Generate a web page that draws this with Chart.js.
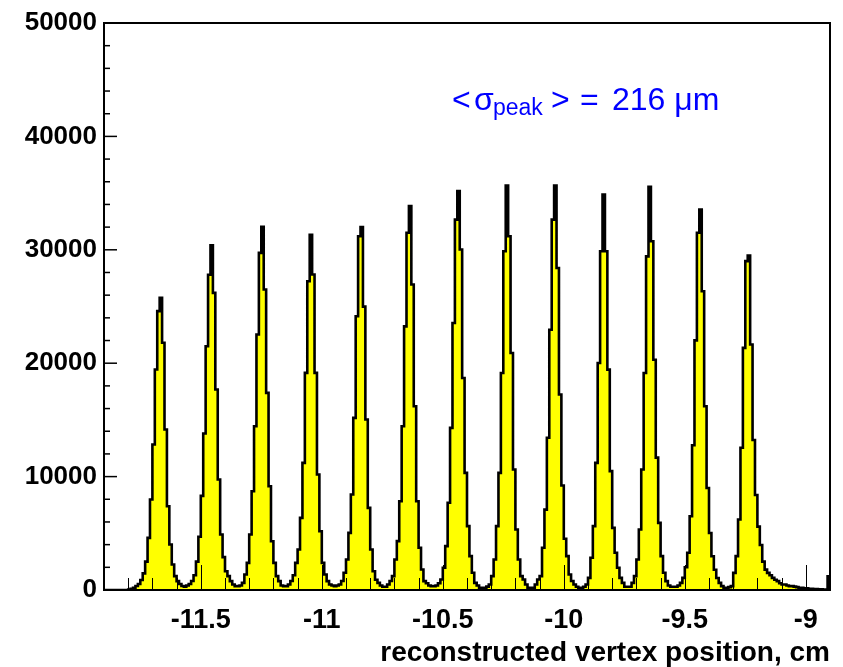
<!DOCTYPE html>
<html>
<head>
<meta charset="utf-8">
<script src="https://cdn.jsdelivr.net/npm/chart.js@4.4.1/dist/chart.umd.min.js"></script>
<style>
  html, body { margin: 0; padding: 0; background: #ffffff; }
  #wrap { width: 843px; height: 667px; }
</style>
</head>
<body>
<div id="wrap"><canvas id="vertexChart" width="843" height="667"></canvas></div>
<script>
// histogram binning: 300 bins of 0.01 cm from -11.9 cm
const binLow = -11.9;
const binWidth = 0.01;

// counts per bin (one row per peak)
const binCounts = [
    0, 0, 0, 0, 0, 0, 0, 0, 0, 0, 50, 100, 190, 353, 530, 880, 1470, 2500, 4600, 7980, 12830, 19440, 24590,
    25770,
    21800, 14150, 7390, 4010, 2250, 1220, 780, 530, 350, 300, 400, 530, 800, 1300, 2500, 4700, 8300, 13800, 21500, 27800,
    30400,
    26200, 17680, 9740, 4890, 2900, 1660, 1220, 780, 485, 340, 340, 400, 630, 1370, 2390, 4890, 8710, 14440, 22530, 29730,
    32030,
    26500, 17380, 9150, 4300, 2390, 1220, 780, 400, 340, 340, 485, 800, 1300, 2390, 3570, 6360, 11210, 19150, 27230,
    31320,
    27820, 19150, 10180, 5180, 2390, 1370, 780, 485, 400, 340, 400, 485, 800, 1520, 2690, 5040, 8420, 15180, 24140, 31190,
    32000,
    24990, 15030, 7240, 3570, 1660, 900, 630, 400, 280, 280, 485, 800, 1220, 2690, 4310, 7830, 14440, 23250, 31500,
    33850,
    26940, 16210, 7830, 3720, 1810, 780, 600, 400, 340, 340, 400, 600, 930, 1960, 3870, 7690, 14300, 23550, 32660,
    35170,
    30020, 18690, 10330, 5630, 2990, 1520, 630, 400, 190, 190, 190, 300, 485, 1220, 2690, 5630, 10330, 19140, 29870,
    35670,
    31190, 20900, 10620, 5330, 2690, 1220, 930, 485, 190, 190, 190, 485, 930, 1220, 3720, 7090, 13420, 22950, 32660,
    35670,
    28400, 17240, 9210, 4520, 2990, 1370, 800, 485, 280, 190, 190, 280, 485, 1070, 2840, 5630, 11210, 20020, 29870,
    34880,
    29870, 19430, 10480, 5480, 3280, 1960, 1070, 630, 280, 280, 280, 630, 1220, 2690, 5330, 10620, 19140, 29420,
    35550,
    30750, 20310, 11670, 5920, 2990, 1520, 780, 400, 280, 280, 280, 400, 630, 1070, 2000, 3280, 6510, 12760, 22010, 31500,
    33550,
    26350, 16210, 9000, 5030, 2970, 1790, 1060, 630, 338, 190, 190, 250, 338, 1514, 2984, 6218, 12540, 21350, 29000,
    29500,
    21650, 13230, 8380, 5590, 3970, 2500, 1800, 1514, 1300, 1070, 900, 780, 600, 485, 485, 400, 338, 338, 300, 250,
    190, 190, 150, 150, 100, 100, 80, 80, 60, 60, 50, 50, 1200
];

const xTickValues = [-11.5, -11, -10.5, -10, -9.5, -9];
const yTickValues = [0, 10000, 20000, 30000, 40000, 50000];
const xAxisTitle = "reconstructed vertex position, cm";
const noteParts = ["<", "\u03C3", "peak", ">", "=", "216 \u03BCm"];

const fontFamily = "'Liberation Sans', Arial, Helvetica, sans-serif";
const binHigh = binLow + binCounts.length * binWidth;

// bin left edges, then close the last bin on the right edge
const histPoints = binCounts.map((c, i) => ({ x: binLow + i * binWidth, y: c }));
histPoints.push({ x: binHigh, y: binCounts[binCounts.length - 1] });
histPoints.push({ x: binHigh, y: 0 });

// inner tick marks and the frame box
const frameTicks = {
    id: "frameTicks",
    afterDatasetsDraw(chart) {
        const { ctx, chartArea: a, scales } = chart;
        ctx.save();
        ctx.strokeStyle = "#000";

        ctx.lineWidth = 1;
        for (let k = -118; k <= -90; k++) {
            const px = Math.round(scales.x.getPixelForValue(k / 10)) + 0.5;
            const len = k % 5 === 0 ? 25 : 12;
            ctx.beginPath();
            ctx.moveTo(px, a.bottom);
            ctx.lineTo(px, a.bottom - len);
            ctx.stroke();
        }

        ctx.lineWidth = 1.5;
        for (let v = 2000; v < 50000; v += 2000) {
            const py = scales.y.getPixelForValue(v);
            const len = v % 10000 === 0 ? 13 : 6;
            ctx.beginPath();
            ctx.moveTo(a.left, py);
            ctx.lineTo(a.left + len, py);
            ctx.stroke();
        }

        ctx.lineWidth = 2;
        ctx.strokeRect(a.left, a.top, a.right - a.left, a.bottom - a.top);
        ctx.restore();
    }
};

// blue <sigma_peak> note
const peakNote = {
    id: "peakNote",
    afterDraw(chart) {
        const ctx = chart.ctx;
        ctx.save();
        ctx.fillStyle = "#0000ff";
        ctx.textBaseline = "alphabetic";
        ctx.font = "32px " + fontFamily;
        ctx.fillText(noteParts[0], 452, 110);
        ctx.fillText(noteParts[1], 474, 110);
        ctx.font = "23px " + fontFamily;
        ctx.fillText(noteParts[2], 493, 115);
        ctx.font = "32px " + fontFamily;
        ctx.fillText(noteParts[3], 551, 110);
        ctx.fillText(noteParts[4], 580, 110);
        ctx.fillText(noteParts[5], 612, 110);
        ctx.restore();
    }
};

new Chart(document.getElementById("vertexChart"), {
    type: "line",
    data: {
        datasets: [{
            data: histPoints,
            stepped: true,
            fill: "origin",
            backgroundColor: "#ffff00",
            borderColor: "#000000",
            borderWidth: 2.6,
            pointRadius: 0,
            tension: 0
        }]
    },
    options: {
        responsive: false,
        animation: false,
        devicePixelRatio: 1,
        layout: { padding: { left: 0, top: 23, right: 13, bottom: 0 } },
        plugins: {
            legend: { display: false },
            tooltip: { enabled: false }
        },
        scales: {
            x: {
                type: "linear",
                min: binLow,
                max: binHigh,
                grid: { display: false, drawTicks: false },
                border: { display: false },
                afterBuildTicks: s => { s.ticks = xTickValues.map(v => ({ value: v })); },
                afterFit: s => { s.height = 77; },
                ticks: {
                    padding: 14,
                    color: "#000",
                    maxRotation: 0,
                    autoSkip: false,
                    font: { family: fontFamily, size: 27, weight: "bold" },
                    callback: v => String(v)
                },
                title: {
                    display: true,
                    text: xAxisTitle,
                    align: "end",
                    color: "#000",
                    padding: 0,
                    font: { family: fontFamily, size: 28, weight: "bold", lineHeight: 1 }
                }
            },
            y: {
                min: 0,
                max: 50000,
                grid: { display: false, drawTicks: false },
                border: { display: false },
                afterBuildTicks: s => { s.ticks = yTickValues.map(v => ({ value: v })); },
                afterFit: s => { s.width = 104; },
                ticks: {
                    padding: 7,
                    color: "#000",
                    font: { family: fontFamily, size: 26, weight: "bold" },
                    callback: v => String(v)
                }
            }
        }
    },
    plugins: [frameTicks, peakNote]
});
</script>
</body>
</html>
